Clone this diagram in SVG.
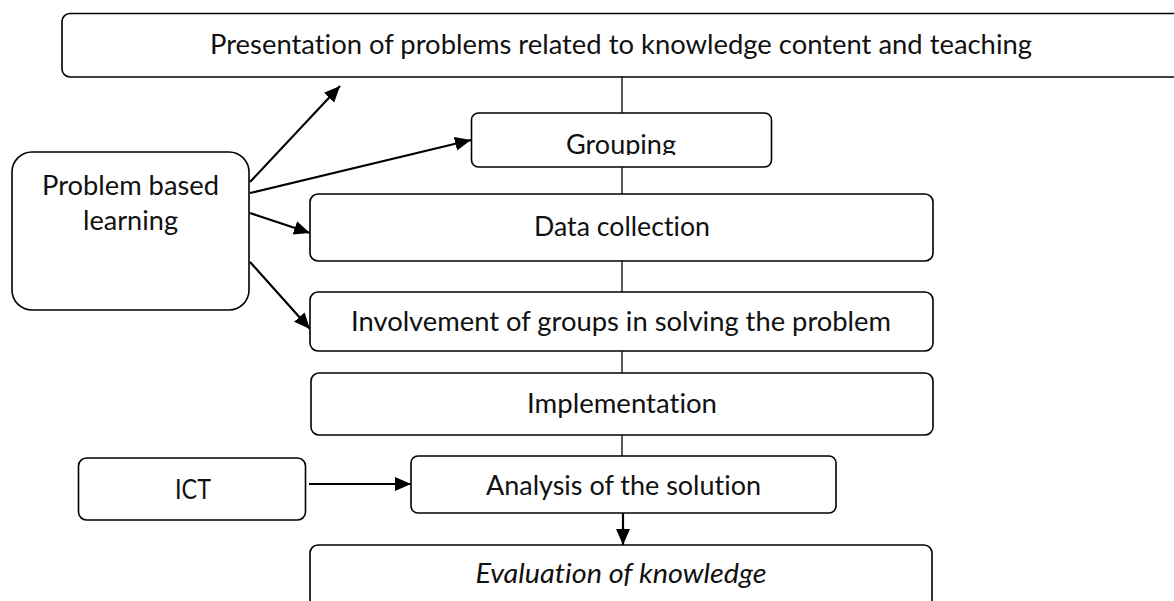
<svg xmlns="http://www.w3.org/2000/svg" width="1174" height="601" viewBox="0 0 1174 601">
<style>
.box{fill:#fff;stroke:#000;stroke-width:1.6}
.t{font-family:Lato,"Open Sans","Liberation Sans",sans-serif;font-size:27px;fill:#111;text-anchor:middle;font-variant-ligatures:none;font-feature-settings:"liga" 0,"clig" 0,"dlig" 0}
.it{font-style:italic}
.ln{stroke:#000;stroke-width:1.3;fill:none}
.ar{stroke:#000;stroke-width:2.2;fill:none;marker-end:url(#ah)}
</style>
<defs>
<marker id="ah" markerUnits="userSpaceOnUse" markerWidth="18" markerHeight="16" refX="16" refY="7" orient="auto">
<path d="M0,0 L16,7 L0,14 z" fill="#000"/>
</marker>
<clipPath id="gclip"><rect x="470" y="100" width="310" height="55"/></clipPath>
</defs>
<g id="connectors">
<line class="ln" x1="622" y1="77" x2="622" y2="113"/>
<line class="ln" x1="622" y1="167" x2="622" y2="194"/>
<line class="ln" x1="622" y1="261" x2="622" y2="292"/>
<line class="ln" x1="622" y1="351" x2="622" y2="373"/>
<line class="ln" x1="622" y1="435" x2="622" y2="456"/>
<line class="ar" x1="623" y1="513" x2="623" y2="545"/>
<line class="ar" x1="250" y1="182" x2="340" y2="86"/>
<line class="ar" x1="250" y1="193" x2="471" y2="140"/>
<line class="ar" x1="250" y1="213" x2="310" y2="233"/>
<line class="ar" x1="250" y1="262" x2="310" y2="329"/>
<line class="ar" x1="309" y1="484" x2="411" y2="484"/>
</g>
<g id="presentation">
<rect class="box" x="62" y="13.5" width="1140" height="63.5" rx="8"/>
<text class="t" x="621" y="54" textLength="822" lengthAdjust="spacingAndGlyphs">Presentation of problems related to knowledge content and teaching</text>
</g>
<g id="grouping">
<rect class="box" x="471.5" y="113" width="300" height="54" rx="7"/>
<text class="t" x="621" y="154" clip-path="url(#gclip)" textLength="110" lengthAdjust="spacingAndGlyphs">Grouping</text>
</g>
<g id="data-collection">
<rect class="box" x="310" y="194" width="623" height="67" rx="8"/>
<text class="t" x="622" y="236" textLength="176" lengthAdjust="spacingAndGlyphs">Data collection</text>
</g>
<g id="involvement">
<rect class="box" x="310" y="292" width="623" height="59" rx="8"/>
<text class="t" x="621" y="331" textLength="540" lengthAdjust="spacingAndGlyphs">Involvement of groups in solving the problem</text>
</g>
<g id="implementation">
<rect class="box" x="311" y="373" width="622" height="62" rx="8"/>
<text class="t" x="622" y="413" textLength="190" lengthAdjust="spacingAndGlyphs">Implementation</text>
</g>
<g id="analysis">
<rect class="box" x="411" y="456" width="425" height="57" rx="7"/>
<text class="t" x="623.5" y="495" textLength="275" lengthAdjust="spacingAndGlyphs">Analysis of the solution</text>
</g>
<g id="evaluation">
<rect class="box" x="310" y="545" width="622" height="80" rx="8"/>
<text class="t it" x="621" y="583" textLength="291" lengthAdjust="spacingAndGlyphs">Evaluation of knowledge</text>
</g>
<g id="pbl">
<rect class="box" x="12" y="152" width="237" height="158" rx="20"/>
<text class="t" x="130.5" y="195" textLength="177" lengthAdjust="spacingAndGlyphs">Problem based</text>
<text class="t" x="130.5" y="230" textLength="95" lengthAdjust="spacingAndGlyphs">learning</text>
</g>
<g id="ict">
<rect class="box" x="78.5" y="458" width="227" height="62" rx="8"/>
<text class="t" x="193" y="499" textLength="36" lengthAdjust="spacingAndGlyphs">ICT</text>
</g>
</svg>
